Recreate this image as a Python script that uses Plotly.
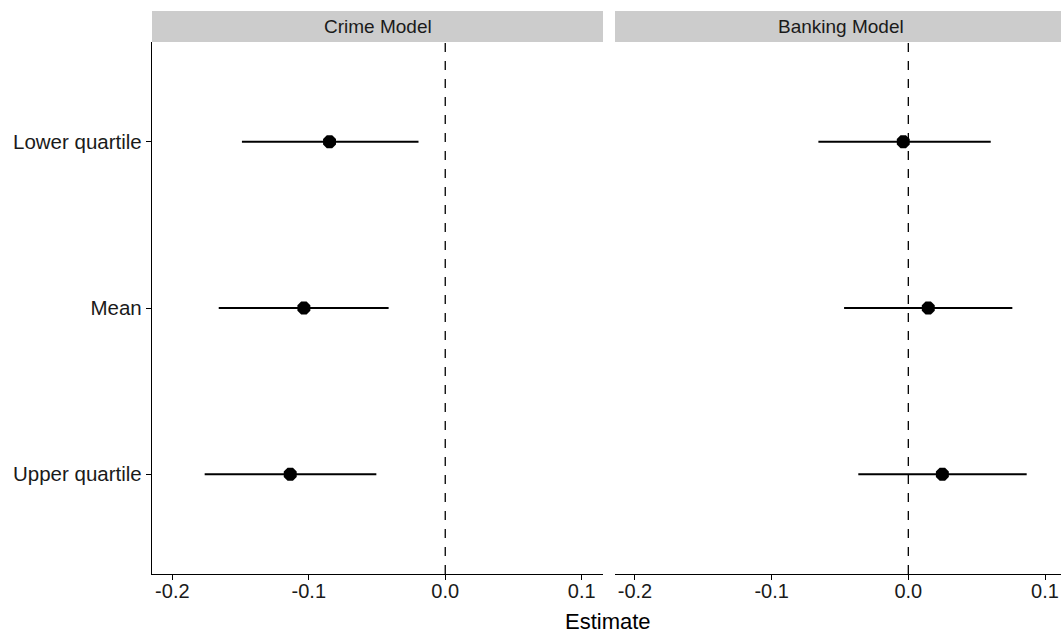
import plotly.graph_objects as go

categories = ["Lower quartile", "Mean", "Upper quartile"]
panels = ["Crime Model", "Banking Model"]

crime_est = [-0.0848, -0.1036, -0.1136]
crime_low = [-0.149, -0.166, -0.1763]
crime_high = [-0.0196, -0.0415, -0.0505]

bank_est = [-0.0037, 0.0146, 0.0249]
bank_low = [-0.0658, -0.047, -0.0366]
bank_high = [0.0603, 0.0761, 0.0866]

tick_vals = [-0.2, -0.1, 0.0, 0.1]
tick_text = ["-0.2", "-0.1", "0.0", "0.1"]

W, H = 1061, 633
FONT = "Liberation Sans, Arial, sans-serif"

fig = go.Figure()

def add_panel(est, low, high, xa, ya):
    fig.add_trace(go.Scatter(
        x=est, y=categories, mode="markers",
        marker=dict(symbol="octagon", size=14, color="black"),
        error_x=dict(type="data", symmetric=False,
                     array=[h - e for h, e in zip(high, est)],
                     arrayminus=[e - l for e, l in zip(est, low)],
                     width=0, thickness=2.2, color="black"),
        xaxis=xa, yaxis=ya, showlegend=False, hoverinfo="skip"))

add_panel(crime_est, crime_low, crime_high, "x", "y")
add_panel(bank_est, bank_low, bank_high, "x2", "y2")

px = lambda v: v / W
py = lambda v: 1 - v / H

ydom = [py(574), py(42)]
xaxis_common = dict(tickvals=tick_vals, ticktext=tick_text, showgrid=False,
                    zeroline=False, showline=True, linecolor="black", linewidth=1.3,
                    ticks="outside", ticklen=5, tickcolor="black", tickwidth=1.3,
                    ticklabelstandoff=-6,
                    tickfont=dict(family=FONT, size=20, color="#1a1a1a"))
fig.update_layout(
    width=W, height=H, margin=dict(l=0, r=0, t=0, b=0),
    plot_bgcolor="white", paper_bgcolor="white",
    xaxis=dict(domain=[px(152), px(603)], range=[-0.2149, 0.1156], anchor="y", **xaxis_common),
    xaxis2=dict(domain=[px(615), 1.0], range=[-0.2146, 0.1117], anchor="y2", **xaxis_common),
    yaxis=dict(domain=ydom, type="category", categoryorder="array",
               categoryarray=categories[::-1], range=[-0.6, 2.6], showgrid=False,
               zeroline=False, showline=True, linecolor="black", linewidth=1.3,
               ticks="outside", ticklen=5, tickcolor="black", tickwidth=1.3,
               tickfont=dict(family=FONT, size=20.5, color="#1a1a1a"), anchor="x"),
    yaxis2=dict(domain=ydom, type="category", categoryorder="array",
                categoryarray=categories[::-1], range=[-0.6, 2.6], showgrid=False,
                zeroline=False, showline=False, ticks="", showticklabels=False, anchor="x2"),
)

# dashed zero lines
for xr, yr in [("x", "y domain"), ("x2", "y2 domain")]:
    fig.add_shape(type="line", xref=xr, yref=yr, x0=0, x1=0, y0=0, y1=1,
                  line=dict(color="black", width=1.3, dash="dash"), layer="below")

# strips
strips = [(152, 603), (615, 1066)]
for name, (a, b) in zip(panels, strips):
    fig.add_shape(type="rect", xref="paper", yref="paper",
                  x0=px(a), x1=min(px(b), 1.0), y0=py(42), y1=py(11),
                  fillcolor="#cccccc", line=dict(width=0))
    fig.add_annotation(xref="paper", yref="paper", x=px((a + b) / 2), y=py(26.5),
                       text=name, showarrow=False,
                       font=dict(family=FONT, size=19, color="#1a1a1a"),
                       xanchor="center", yanchor="middle")

fig.add_annotation(xref="paper", yref="paper", x=px(608), y=py(621),
                   text="Estimate", showarrow=False,
                   font=dict(family=FONT, size=22, color="black"),
                   xanchor="center", yanchor="middle")

fig.write_html("out.html")
